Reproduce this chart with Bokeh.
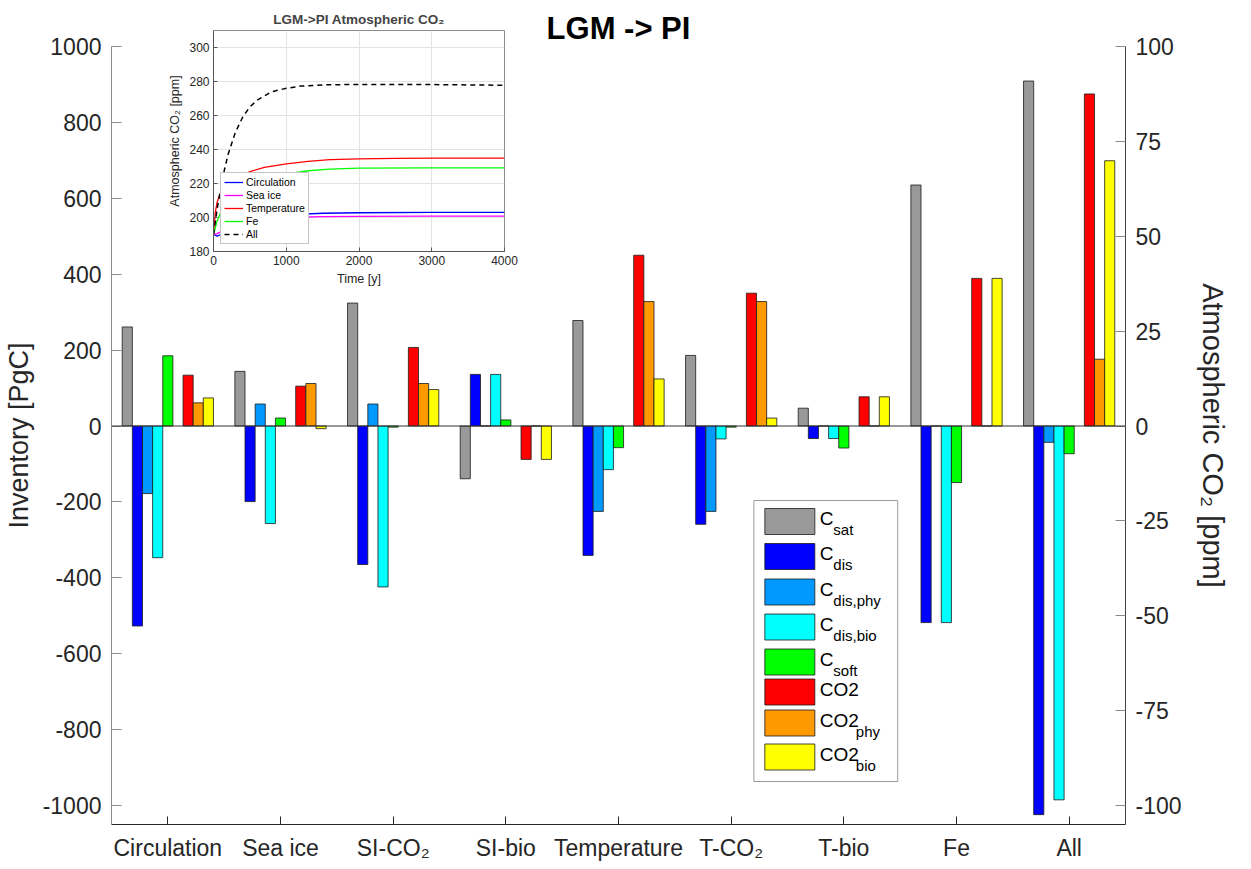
import numpy as np
from bokeh.plotting import figure
from bokeh.models import Range1d, LinearAxis, FixedTicker, Span, Legend, LegendItem
from bokeh.embed import file_html
from bokeh.resources import INLINE
from bokeh.core.properties import value

# ---------------- data ----------------
categories = ["Circulation", "Sea ice", "SI-CO₂", "SI-bio", "Temperature",
              "T-CO₂", "T-bio", "Fe", "All"]
# inventories [PgC] (left axis)
c_sat     = [261, 144, 324, -139, 278, 186, 47, 635, 909]
c_dis     = [-527, -199, -365, 136, -341, -259, -33, -518, -1024]
c_dis_phy = [-178, 58, 58, 0, -225, -225, 0, 0, -43]
c_dis_bio = [-347, -257, -424, 136, -115, -34, -33, -518, -985]
c_soft    = [185, 21, -3, 16, -57, -3, -58, -149, -73]
# atmospheric CO2 [ppm] (right axis)
co2       = [13.4, 10.5, 20.7, -8.8, 45.0, 35.0, 7.7, 38.9, 87.5]
co2_phy   = [6.1, 11.2, 11.2, 0.0, 32.8, 32.8, 0.0, 0.0, 17.6]
co2_bio   = [7.4, -0.7, 9.6, -8.8, 12.4, 2.1, 7.7, 38.9, 69.9]

left_ticks = [-1000, -800, -600, -400, -200, 0, 200, 400, 600, 800, 1000]
right_ticks = [-100, -75, -50, -25, 0, 25, 50, 75, 100]

# inset time series
t_all = [0, 50, 100, 150, 200, 300, 400, 500, 600, 800, 1000, 1200, 1500, 2000, 2500, 3000, 3500, 4000]
v_all = [190, 205, 217, 228, 237, 250, 259, 265, 269, 274, 276, 277.3, 278, 278.3, 278.3, 278.2, 278.0, 277.8]
t_temp = [0, 25, 50, 100, 200, 300, 500, 700, 1000, 1300, 1600, 2000, 2500, 3000, 4000]
v_temp = [190, 203, 209, 215, 220, 223, 227, 229.5, 231.5, 233, 234, 234.5, 234.8, 234.9, 234.9]
t_fe = [0, 50, 100, 200, 300, 500, 700, 1000, 1300, 1600, 2000, 3000, 4000]
v_fe = [190, 198, 203, 210, 214, 219, 222.5, 225.5, 227.5, 228.5, 229, 229.2, 229.2]
t_circ = [0, 50, 100, 200, 400, 700, 1000, 1500, 2000, 3000, 4000]
v_circ = [190, 189, 190, 193, 197, 200, 201.5, 202.5, 202.8, 203, 203]
t_sea = [0, 50, 100, 200, 400, 700, 1000, 1500, 2000, 3000, 4000]
v_sea = [190, 190.5, 191.5, 193.5, 196.5, 199, 200, 200.5, 200.7, 200.8, 200.8]

FONT = "Liberation Sans"
TXT = "#262626"

# ---------------- main figure ----------------
W, H = 1245, 865
FL, FR, FT, FB = 110, 1125, 46, 824     # frame edges in page pixels
XR = (0.5, 9.5)
YR = (-1050, 1000)

p = figure(width=W, height=H, x_range=Range1d(*XR), y_range=Range1d(*YR),
           output_backend="svg", toolbar_location=None,
           min_border_left=FL, min_border_right=W - FR,
           min_border_top=FT, min_border_bottom=H - FB)
p.extra_y_ranges = {"ppm": Range1d(YR[0] / 10.0, YR[1] / 10.0)}
p.grid.visible = False
p.outline_line_color = None

p.title.text = "LGM -> PI"
p.title.align = "center"
p.title.text_font = FONT
p.title.text_font_size = "31px"
p.title.text_font_style = "bold"
p.title.text_color = "black"
p.title.standoff = 2

xs = np.arange(1, len(categories) + 1)
slot_w = 0.09
series = [
    (c_sat, "#999999", -4, "default"),
    (c_dis, "#0000FF", -3, "default"),
    (c_dis_phy, "#0099FF", -2, "default"),
    (c_dis_bio, "#00FFFF", -1, "default"),
    (c_soft, "#00FF00", 0, "default"),
    (co2, "#FF0000", 2, "ppm"),
    (co2_phy, "#FF9900", 3, "ppm"),
    (co2_bio, "#FFFF00", 4, "ppm"),
]
for vals, col, slot, rng in series:
    p.vbar(x=xs + slot * slot_w, top=vals, bottom=0, width=slot_w,
           fill_color=col, line_color="#1a1a1a", line_width=0.8,
           y_range_name=rng)

p.add_layout(Span(location=0, dimension="width", line_color="#333333", line_width=1))

# x axis
xa = p.xaxis[0]
xa.ticker = FixedTicker(ticks=list(xs))
xa.major_label_overrides = {int(i): c for i, c in zip(xs, categories)}
xa.major_tick_in = 8
xa.major_tick_out = 0
xa.minor_tick_line_color = None
xa.axis_line_color = "#262626"
xa.major_tick_line_color = "#262626"
xa.major_label_text_font = FONT
xa.major_label_text_font_size = "23px"
xa.major_label_text_color = TXT
xa.major_label_standoff = 10

# left axis
ya = p.yaxis[0]
ya.ticker = FixedTicker(ticks=left_ticks)
ya.major_label_overrides = {t: str(t) for t in left_ticks}
ya.axis_label = "Inventory [PgC]"
ya.major_tick_in = 10
ya.major_tick_out = 0
ya.minor_tick_line_color = None
ya.axis_line_color = "#8c8c8c"
ya.major_tick_line_color = "#8c8c8c"
ya.major_label_text_font = FONT
ya.major_label_text_font_size = "23px"
ya.major_label_text_color = TXT
ya.major_label_standoff = 10
ya.axis_label_text_font = FONT
ya.axis_label_text_font_size = "27px"
ya.axis_label_text_font_style = "normal"
ya.axis_label_text_color = TXT
ya.axis_label_standoff = 6

# right axis
ra = LinearAxis(y_range_name="ppm", ticker=FixedTicker(ticks=right_ticks),
                axis_label="Atmospheric CO₂ [ppm]")
ra.major_label_overrides = {t: str(t) for t in right_ticks}
ra.major_tick_in = 10
ra.major_tick_out = 0
ra.minor_tick_line_color = None
ra.axis_line_color = "#404040"
ra.major_tick_line_color = "#8c8c8c"
ra.major_label_text_font = FONT
ra.major_label_text_font_size = "23px"
ra.major_label_text_color = TXT
ra.major_label_standoff = 10
ra.axis_label_text_font = FONT
ra.axis_label_text_font_size = "29px"
ra.axis_label_text_font_style = "normal"
ra.axis_label_text_color = TXT
ra.axis_label_standoff = 12
p.add_layout(ra, "right")

# ---------------- main legend (manual, with subscripts) ----------------
def dx(px):
    return XR[0] + (px - FL) / (FR - FL) * (XR[1] - XR[0])
def dy(py):
    return YR[1] - (py - FT) / (FB - FT) * (YR[1] - YR[0])

leg_main = ["C", "C", "C", "C", "C", "CO2", "CO2", "CO2"]
leg_sub = ["sat", "dis", "dis,phy", "dis,bio", "soft", "", "phy", "bio"]
leg_rows = [521, 556, 591.5, 626.5, 661.5, 691.5, 722.5, 756.5]
p.quad(left=dx(753), right=dx(897), top=dy(500), bottom=dy(781),
       fill_color="white", line_color="#9a9a9a", line_width=1)
for (vals, col, slot, rng), m, s, r in zip(series, leg_main, leg_sub, leg_rows):
    p.rect(x=dx(789), y=dy(r), width=50, height=26, width_units="screen",
           height_units="screen", fill_color=col, line_color="#1a1a1a", line_width=0.8)
    p.text(x=[dx(819)], y=[dy(r - 3)], text=[m], text_font=value(FONT),
           text_font_size="19px", text_baseline="middle", text_align="left",
           text_color="black")
    if s:
        off = 13.5 if m == "C" else 36
        p.text(x=[dx(819)], y=[dy(r + 8)], text=[s], x_offset=off, text_font=value(FONT),
               text_font_size="15px", text_baseline="middle", text_align="left",
               text_color="black")

# ---------------- inset ----------------
IL, IT = 160, 4          # page position of the inset figure
IW, IH = 359, 287
inset = figure(width=IW, height=IH, x_range=Range1d(0, 4000), y_range=Range1d(180, 310),
               output_backend="svg", toolbar_location=None,
               min_border_left=53, min_border_right=15, min_border_top=26, min_border_bottom=40)
inset.title.text = "LGM->PI Atmospheric CO₂"
inset.title.align = "center"
inset.title.text_font = FONT
inset.title.text_font_size = "13.5px"
inset.title.text_font_style = "bold"
inset.title.standoff = 8
inset.outline_line_color = "#8c8c8c"
inset.background_fill_color = "white"
inset.border_fill_color = "white"
inset.xaxis.ticker = FixedTicker(ticks=[0, 1000, 2000, 3000, 4000])
inset.yaxis.ticker = FixedTicker(ticks=[180, 200, 220, 240, 260, 280, 300])
inset.grid.grid_line_color = "#e3e3e3"
for ax in (inset.xaxis[0], inset.yaxis[0]):
    ax.major_tick_in = 4
    ax.major_tick_out = 0
    ax.minor_tick_line_color = None
    ax.axis_line_color = "#555555"
    ax.major_tick_line_color = "#555555"
    ax.major_label_text_font = FONT
    ax.major_label_text_font_size = "12px"
    ax.major_label_text_color = TXT
    ax.major_label_standoff = 4
    ax.axis_label_text_font = FONT
    ax.axis_label_text_font_size = "12.5px"
    ax.axis_label_text_font_style = "normal"
    ax.axis_label_text_color = TXT
    ax.axis_label_standoff = 4
inset.xaxis.axis_label = "Time [y]"
inset.yaxis.axis_label = "Atmospheric CO₂ [ppm]"

r_circ = inset.line(t_circ, v_circ, line_color="#0000FF", line_width=1.3)
r_sea = inset.line(t_sea, v_sea, line_color="#FF00FF", line_width=1.3)
r_temp = inset.line(t_temp, v_temp, line_color="#FF0000", line_width=1.3)
r_fe = inset.line(t_fe, v_fe, line_color="#00FF00", line_width=1.3)
r_all = inset.line(t_all, v_all, line_color="black", line_width=1.5, line_dash="5 4")

leg = Legend(items=[LegendItem(label="Circulation", renderers=[r_circ]),
                    LegendItem(label="Sea ice", renderers=[r_sea]),
                    LegendItem(label="Temperature", renderers=[r_temp]),
                    LegendItem(label="Fe", renderers=[r_fe]),
                    LegendItem(label="All", renderers=[r_all])],
             location="bottom_left")
leg.label_text_font = FONT
leg.label_text_font_size = "10.5px"
leg.label_text_color = "black"
leg.glyph_width = 19
leg.glyph_height = 12
leg.label_height = 12
leg.label_standoff = 3
leg.spacing = 1
leg.padding = 3
leg.margin = 7
leg.border_line_color = "#8c8c8c"
leg.background_fill_alpha = 1.0
inset.add_layout(leg)

# the inset floats over the main chart at a fixed page position
inset.styles = {"position": "absolute", "left": f"{IL}px", "top": f"{IT}px", "z-index": "10"}

open("out.html", "w").write(file_html([p, inset], INLINE))
